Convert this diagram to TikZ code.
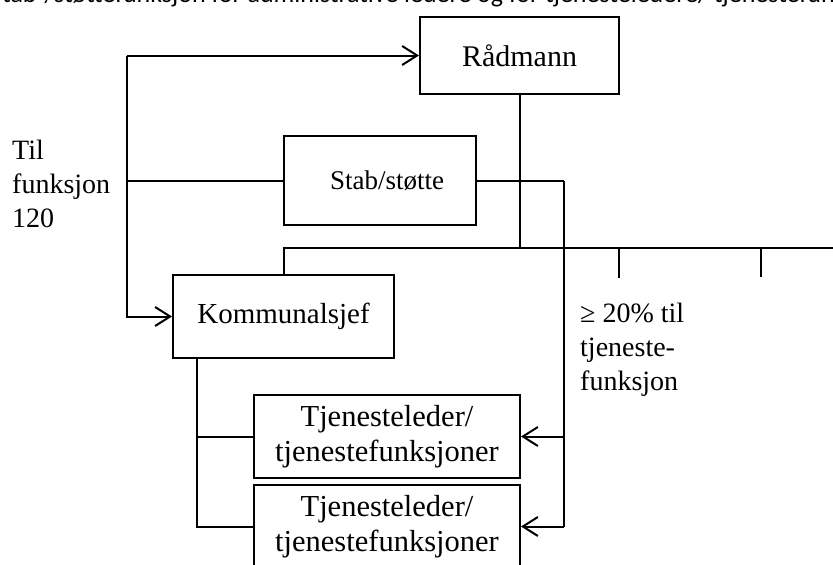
\documentclass[tikz,border=0pt]{standalone}
\usepackage{fontspec}
\setmainfont{Liberation Serif}
\newfontfamily\topfont{Carlito}
\usetikzlibrary{arrows.meta}
\begin{document}
\begin{tikzpicture}[x=1pt,y=-1pt,
  box/.style={draw,line width=2pt,anchor=north west,inner sep=0pt,align=center},
  ln/.style={line width=2pt},
  arr/.style={line width=2pt,-{Straight Barb[length=15pt,width=19pt,line width=2pt]}},
  lbl/.style={font=\fontsize{28}{34}\selectfont},
  tjfont/.style={font=\fontsize{30.5}{35}\selectfont}
]
\useasboundingbox (0,0) rectangle (833,565);
\node[anchor=base west,inner sep=0pt,font=\topfont\fontsize{26}{30}\selectfont] (top) at (-10,2) {Stab-/støttefunksjon for administrative ledere og for tjenesteledere/ tjenestefunksjoner};

\node[box,font=\fontsize{30}{35}\selectfont,minimum width=199pt,minimum height=77pt] (rad) at (419,16) {Rådmann};
\node[box,font=\fontsize{27}{33}\selectfont,minimum width=192pt,minimum height=89pt] (stab) at (283,135) {\hspace*{14pt}Stab/støtte};
\node[box,font=\fontsize{29}{34}\selectfont,minimum width=221pt,minimum height=83pt] (kom) at (172,274) {Kommunalsjef};
\node[box,tjfont,minimum width=266pt,minimum height=83pt] (tj1) at (253,394) {Tjenesteleder/\\tjenestefunksjoner};
\node[box,tjfont,minimum width=266pt,minimum height=83pt] (tj2) at (253,484) {Tjenesteleder/\\tjenestefunksjoner};

\node[anchor=base west,inner sep=0pt,align=left,lbl] (til) at (12,227) {Til\\funksjon\\120};
\node[anchor=base west,inner sep=0pt,align=left,lbl] (pct) at (580,390) {≥ 20\% til\\tjeneste-\\funksjon};

\coordinate (lx) at (127,0);
\coordinate (rx) at (564,0);
\coordinate (kx) at (197,0);
\coordinate (busR) at (833,248);
\coordinate (t1) at (619,248);
\coordinate (t1e) at (619,278);
\coordinate (t2) at (761,248);
\coordinate (t2e) at (761,277);

% left feed
\draw[arr] (rad.west -| lx) -- (rad.west);
\draw[arr] (rad.west -| lx) -- (kom.west -| lx) -- (kom.west);
\draw[ln] (stab.west -| lx) -- (stab.west);

% Rådmann down to bus
\draw[ln] (rad.south) -- (rad.south |- busR);
\draw[ln] (kom.north) -- (kom.north |- busR) -- (busR);
\draw[ln] (t1) -- (t1e);
\draw[ln] (t2) -- (t2e);

% Stab right
\draw[ln] (stab.east) -- (stab.east -| rx);
\draw[line width=2.8pt] (stab.east -| rx) -- (tj2.east -| rx);
\draw[arr] (tj1.east -| rx) -- (tj1.east);
\draw[arr] (tj2.east -| rx) -- (tj2.east);

% Kommunalsjef down
\draw[ln] (kom.south -| kx) -- (tj2.west -| kx) -- (tj2.west);
\draw[ln] (tj1.west -| kx) -- (tj1.west);
\end{tikzpicture}
\end{document}
